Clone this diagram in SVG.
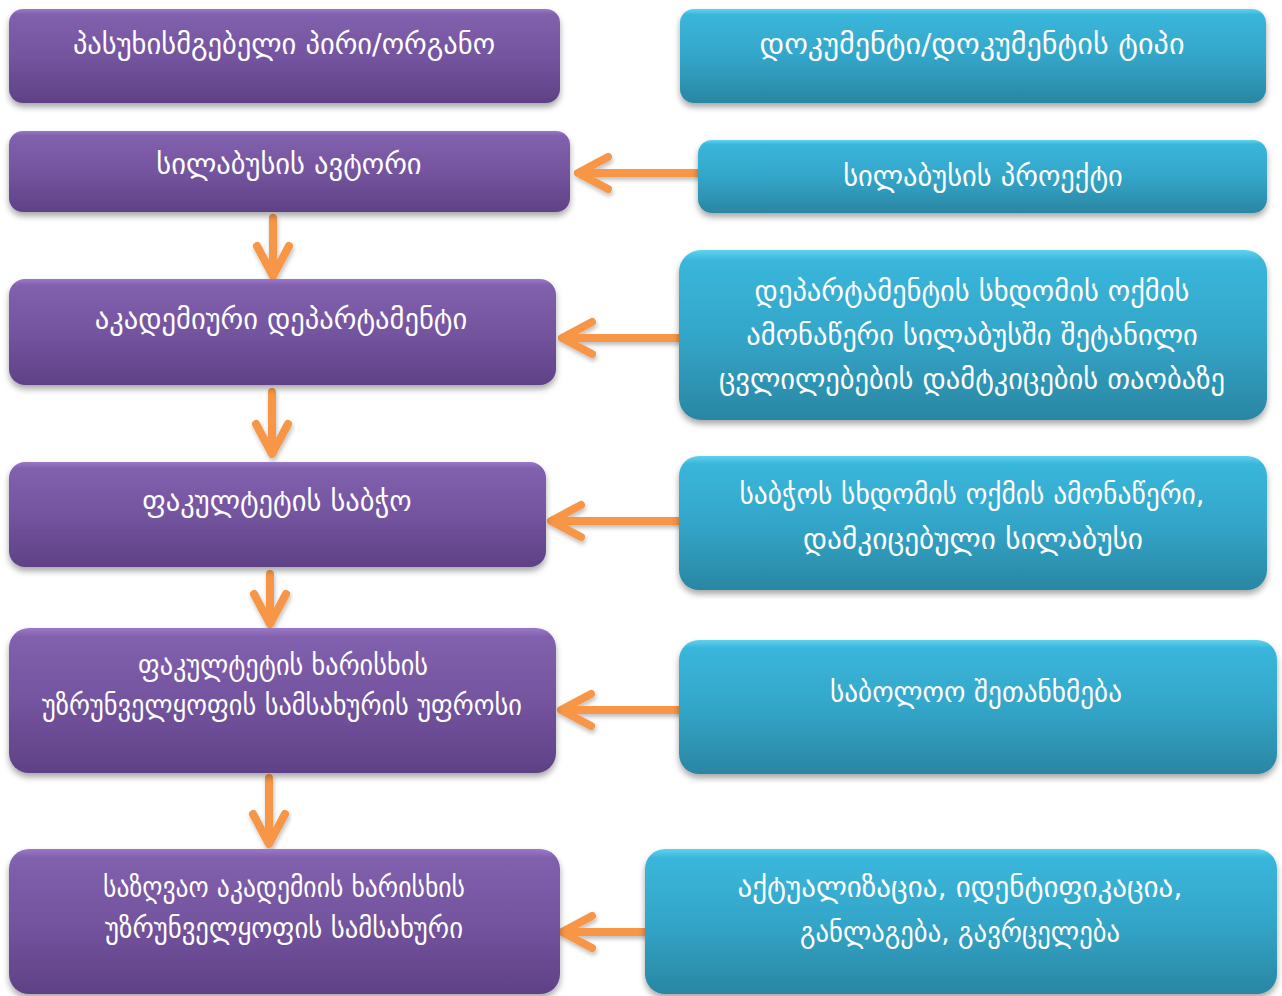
<svg xmlns="http://www.w3.org/2000/svg" width="1282" height="996" viewBox="0 0 1282 996">
<defs>
<linearGradient id="gp" x1="0" y1="0" x2="0" y2="1">
<stop offset="0" stop-color="#9a78c8"/>
<stop offset="0.06" stop-color="#8160ad"/>
<stop offset="0.5" stop-color="#74549f"/>
<stop offset="1" stop-color="#5f4186"/>
</linearGradient>
<linearGradient id="gc" x1="0" y1="0" x2="0" y2="1">
<stop offset="0" stop-color="#5fd2ef"/>
<stop offset="0.06" stop-color="#3ab6db"/>
<stop offset="0.5" stop-color="#33a6c9"/>
<stop offset="1" stop-color="#2a86a3"/>
</linearGradient>
<filter id="sh" x="-5%" y="-10%" width="110%" height="130%">
<feDropShadow dx="0" dy="4" stdDeviation="3" flood-color="#000" flood-opacity="0.35"/>
</filter>
<filter id="ash" x="-20%" y="-20%" width="140%" height="160%">
<feDropShadow dx="1" dy="3" stdDeviation="2" flood-color="#000" flood-opacity="0.25"/>
</filter>
</defs>
<style>
.p{fill:url(#gp);filter:url(#sh)}
.c{fill:url(#gc);filter:url(#sh)}
text{font-family:"DejaVu Sans","Noto Sans",sans-serif;font-size:28.5px;fill:#fff;text-anchor:middle}
.a{fill:none;stroke:#f79646;stroke-width:8;stroke-linecap:round;stroke-linejoin:round;filter:url(#ash)}
</style>
<rect width="1282" height="996" fill="#fff"/>
<g id="connectors">
<path class="a" d="M698 173H580M608 157L578 173L608 189"/>
<path class="a" d="M679 338H564M592 322L562 338L592 354"/>
<path class="a" d="M679 521H553M581 505L551 521L581 537"/>
<path class="a" d="M679 710H563M591 694L561 710L591 726"/>
<path class="a" d="M645 932H564M592 916L562 932L592 948"/>
<path class="a" d="M273 218V272M257 246L273 276L289 246"/>
<path class="a" d="M272 392V450M256 424L272 454L288 424"/>
<path class="a" d="M270 574V620M254 594L270 624L286 594"/>
<path class="a" d="M269 778V840M253 814L269 844L285 814"/>
</g>
<g id="n1"><rect class="p" x="9" y="9" width="551" height="94" rx="14"/><text x="284" y="54">პასუხისმგებელი პირი/ორგანო</text></g>
<g id="n2"><rect class="c" x="680" y="9" width="586" height="94" rx="14"/><text x="972" y="54" textLength="425" lengthAdjust="spacingAndGlyphs">დოკუმენტი/დოკუმენტის ტიპი</text></g>
<g id="n3"><rect class="p" x="9" y="131" width="561" height="81" rx="14"/><text x="289" y="174">სილაბუსის ავტორი</text></g>
<g id="n4"><rect class="c" x="698" y="140" width="569" height="73" rx="14"/><text x="983" y="186">სილაბუსის პროექტი</text></g>
<g id="n5"><rect class="p" x="9" y="279" width="547" height="106" rx="16"/><text x="281" y="329">აკადემიური დეპარტამენტი</text></g>
<g id="n6"><rect class="c" x="679" y="250" width="588" height="170" rx="22"/><text x="972" y="301">დეპარტამენტის სხდომის ოქმის</text><text x="972" y="345">ამონაწერი სილაბუსში შეტანილი</text><text x="972" y="389">ცვლილებების დამტკიცების თაობაზე</text></g>
<g id="n7"><rect class="p" x="9" y="462" width="537" height="105" rx="16"/><text x="277" y="511">ფაკულტეტის საბჭო</text></g>
<g id="n8"><rect class="c" x="679" y="456" width="588" height="134" rx="20"/><text x="972" y="504" textLength="465" lengthAdjust="spacingAndGlyphs">საბჭოს სხდომის ოქმის ამონაწერი,</text><text x="973" y="549" textLength="340" lengthAdjust="spacingAndGlyphs">დამკიცებული სილაბუსი</text></g>
<g id="n9"><rect class="p" x="9" y="628" width="547" height="145" rx="20"/><text x="283" y="675" textLength="290" lengthAdjust="spacingAndGlyphs">ფაკულტეტის ხარისხის</text><text x="282" y="715" textLength="480" lengthAdjust="spacingAndGlyphs">უზრუნველყოფის სამსახურის უფროსი</text></g>
<g id="n10"><rect class="c" x="679" y="640" width="598" height="134" rx="20"/><text x="976" y="702" textLength="292" lengthAdjust="spacingAndGlyphs">საბოლოო შეთანხმება</text></g>
<g id="n11"><rect class="p" x="9" y="849" width="551" height="145" rx="20"/><text x="284" y="897" textLength="362" lengthAdjust="spacingAndGlyphs">საზღვაო აკადემიის ხარისხის</text><text x="284" y="938" textLength="358" lengthAdjust="spacingAndGlyphs">უზრუნველყოფის სამსახური</text></g>
<g id="n12"><rect class="c" x="645" y="849" width="632" height="145" rx="20"/><text x="960" y="897" textLength="445" lengthAdjust="spacingAndGlyphs">აქტუალიზაცია, იდენტიფიკაცია,</text><text x="960" y="942" textLength="320" lengthAdjust="spacingAndGlyphs">განლაგება, გავრცელება</text></g>
</svg>
